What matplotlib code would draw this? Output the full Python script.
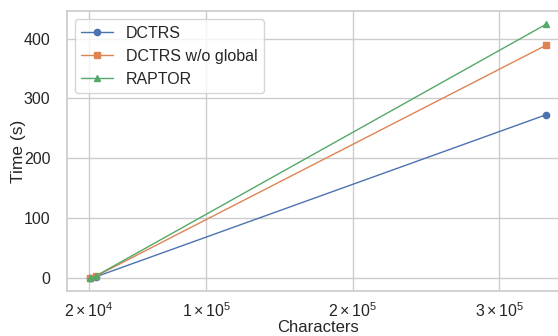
import matplotlib
matplotlib.use('Agg')
import matplotlib.pyplot as plt
import seaborn as sns

# Characters vs. runtime
characters = [20500, 24500, 332000]
dctrs = [0.8, 2.5, 273]
dctrs_no_global = [0.9, 3.5, 389]
raptor = [0.7, 3.8, 424]

xtick_vals = [2e4, 1e5, 2e5, 3e5]
xtick_labels = [r'$2\times10^{4}$', r'$1\times10^{5}$', r'$2\times10^{5}$', r'$3\times10^{5}$']

sns.set_theme(style='whitegrid')
plt.rcParams['font.family'] = ['Liberation Sans', 'DejaVu Sans']
plt.rcParams['mathtext.fontset'] = 'custom'
plt.rcParams['mathtext.rm'] = 'Liberation Sans'
plt.rcParams['mathtext.it'] = 'Liberation Sans:italic'

pal = sns.color_palette('deep')

fig = plt.figure(figsize=(5.58, 3.36), dpi=100)
ax = fig.add_axes([0.12, 0.135, 0.90, 0.831])

ax.plot(characters, dctrs, marker='o', markersize=4.5, linewidth=1, color=pal[0], label='DCTRS')
ax.plot(characters, dctrs_no_global, marker='s', markersize=4.5, linewidth=1, color=pal[1], label='DCTRS w/o global')
ax.plot(characters, raptor, marker='^', markersize=4.5, linewidth=1, color=pal[2], label='RAPTOR')

ax.set_xticks(xtick_vals)
ax.set_xticklabels(xtick_labels)
ax.tick_params(axis='both', labelsize=11.5)
ax.tick_params(axis='y', pad=6)
ax.tick_params(axis='x', pad=2)

# label positions fixed by hand so the bottom one stays inside the figure
ax.set_xlabel('Characters', fontsize=12, va='bottom')
ax.xaxis.set_label_coords(0.5, -0.158)
ax.set_ylabel('Time (s)', fontsize=12.5, va='center')
ax.yaxis.set_label_coords(-0.096, 0.5)
ax.legend(loc='upper left', fontsize=11.5)

plt.savefig('out.png', dpi=100)
